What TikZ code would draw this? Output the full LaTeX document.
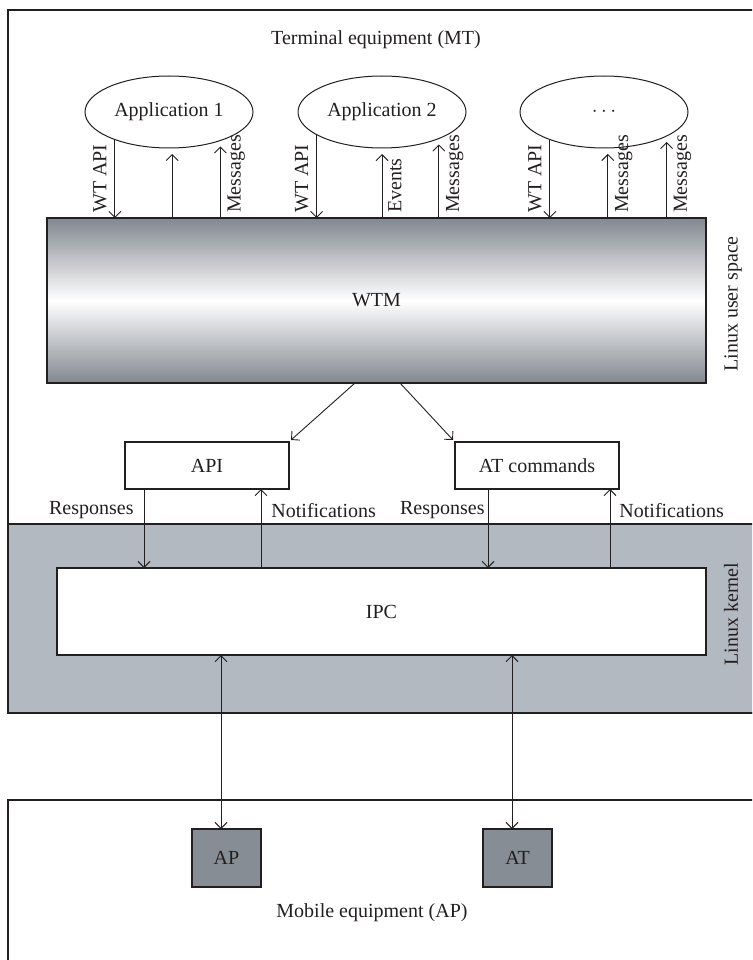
\documentclass[tikz,border=0pt]{standalone}
\usepackage{fontspec}
\setmainfont{Liberation Serif}
\usetikzlibrary{arrows.meta,calc,shapes.geometric}
\definecolor{ink}{HTML}{231F20}
\definecolor{kernelgray}{HTML}{B3B9C0}
\definecolor{boxgray}{HTML}{878D94}
\definecolor{wtmgray}{HTML}{828890}
\begin{document}
\begin{tikzpicture}[x=1pt,y=-1pt,font=\fontsize{20}{23}\selectfont,color=ink,
  arr/.style={draw=ink,line width=0.9pt,-{Straight Barb[length=6pt,width=12pt]}},
  darr/.style={draw=ink,line width=0.9pt,{Straight Barb[length=6pt,width=12pt]}-{Straight Barb[length=6pt,width=12pt]}},
  app/.style={ellipse,draw=ink,line width=1pt,fill=white,minimum width=168pt,minimum height=72pt,inner sep=0pt,outer sep=0pt},
  plainbox/.style={rectangle,draw=ink,line width=1.2pt,fill=white,minimum width=164pt,minimum height=47pt,inner sep=0pt,outer sep=0pt},
  graybox/.style={rectangle,draw=ink,line width=1.2pt,fill=boxgray,minimum width=69pt,minimum height=58pt,inner sep=0pt,outer sep=0pt},
  vlab/.style={rotate=90,inner sep=0pt,text=ink},
  hlab/.style={inner sep=0pt,text=ink}]
\useasboundingbox (0,0) rectangle (752,960);
\clip (0,0) rectangle (752,960);
% regions
\draw[ink,line width=1.3pt] (8,10) rectangle (790,713);
\filldraw[fill=kernelgray,draw=ink,line width=1.3pt] (8,524) rectangle (790,713);
\draw[ink,line width=2.2pt] (8,800) rectangle (790,1000);
% nodes
\node[hlab] (mt) at (376,40) {Terminal equipment (MT)};
\node[app] (app1) at (169,112) {Application 1};
\node[app] (app2) at (382,112) {Application 2};
\node[app] (app3) at (604,112) {$\cdots$};
\node[rectangle,draw=ink,line width=1.2pt,top color=wtmgray,bottom color=wtmgray,middle color=white,
      minimum width=659pt,minimum height=165pt,inner sep=0pt,outer sep=0pt] (wtm) at (376.5,300.5) {WTM};
\node[vlab] (lus) at (733,304) {Linux user space};
\node[plainbox] (api) at (207,465.5) {API};
\node[plainbox] (atc) at (537,465.5) {AT commands};
\node[rectangle,draw=ink,line width=1.2pt,fill=white,minimum width=649pt,minimum height=87pt,inner sep=0pt,outer sep=0pt] (ipc) at (381.5,611.5) {IPC};
\node[vlab] (lk) at (731,614) {Linux kernel};
\node[graybox] (ap) at (226.5,858) {AP};
\node[graybox] (atb) at (517.5,858) {AT};
\node[hlab] (me) at (372,913) {Mobile equipment (AP)};
% application 1 arrows
\draw[arr] (app1.207) -- (app1.207 |- wtm.north) coordinate (e11);
\node[vlab,anchor=south west] at ($(e11)+(-8,-5)$) {WT API};
\draw[arr,shorten >=6pt] (app1.275 |- wtm.north) -- (app1.275);
\draw[arr,shorten >=6pt] (app1.331 |- wtm.north) coordinate (s13) -- (app1.331);
\node[vlab,anchor=north west] at ($(s13)+(7,-5)$) {Messages};
% application 2 arrows
\draw[arr] (app2.199) -- (app2.199 |- wtm.north) coordinate (e21);
\node[vlab,anchor=south west] at ($(e21)+(-8,-5)$) {WT API};
\draw[arr,shorten >=6pt] (app2.270 |- wtm.north) coordinate (s22) -- (app2.270);
\node[vlab,anchor=north west] at ($(s22)+(6,-5)$) {Events};
\draw[arr,shorten >=6pt] (app2.335 |- wtm.north) coordinate (s23) -- (app2.335);
\node[vlab,anchor=north west] at ($(s23)+(7,-5)$) {Messages};
% application 3 arrows
\draw[arr] (app3.207) -- (app3.207 |- wtm.north) coordinate (e31);
\node[vlab,anchor=south west] at ($(e31)+(-8,-5)$) {WT API};
\draw[arr,shorten >=6pt] (app3.276 |- wtm.north) coordinate (s32) -- (app3.276);
\node[vlab,anchor=north west] at ($(s32)+(7,-5)$) {Messages};
\draw[arr,shorten >=6pt] (app3.339 |- wtm.north) coordinate (s33) -- (app3.339);
\node[vlab,anchor=north west] at ($(s33)+(7,-5)$) {Messages};
% WTM to API / AT commands
\draw[arr] ([xshift=-21.5pt]wtm.south) -- ([xshift=2pt,yshift=2pt]api.north east);
\draw[arr] ([xshift=23.5pt]wtm.south) -- ([xshift=-2pt,yshift=2pt]atc.north west);
% API / AT commands to IPC
\draw[arr] ([xshift=-63pt]api.south) -- ([xshift=-63pt]api.south |- ipc.north)
  node[hlab,pos=0.27,left=10pt] {Responses};
\draw[arr] ([xshift=54pt]api.south |- ipc.north) -- ([xshift=54pt]api.south)
  node[hlab,pos=0.73,right=10pt] {Notifications};
\draw[arr] ([xshift=-49pt]atc.south) -- ([xshift=-49pt]atc.south |- ipc.north)
  node[hlab,pos=0.27,left=3pt] {Responses};
\draw[arr] ([xshift=73pt]atc.south |- ipc.north) -- ([xshift=73pt]atc.south)
  node[hlab,pos=0.73,right=9pt] {Notifications};
% IPC to AP / AT
\draw[darr] ([xshift=-5.5pt]ap.north |- ipc.south) -- ([xshift=-5.5pt]ap.north);
\draw[darr] ([xshift=-5.5pt]atb.north |- ipc.south) -- ([xshift=-5.5pt]atb.north);
\end{tikzpicture}
\end{document}
